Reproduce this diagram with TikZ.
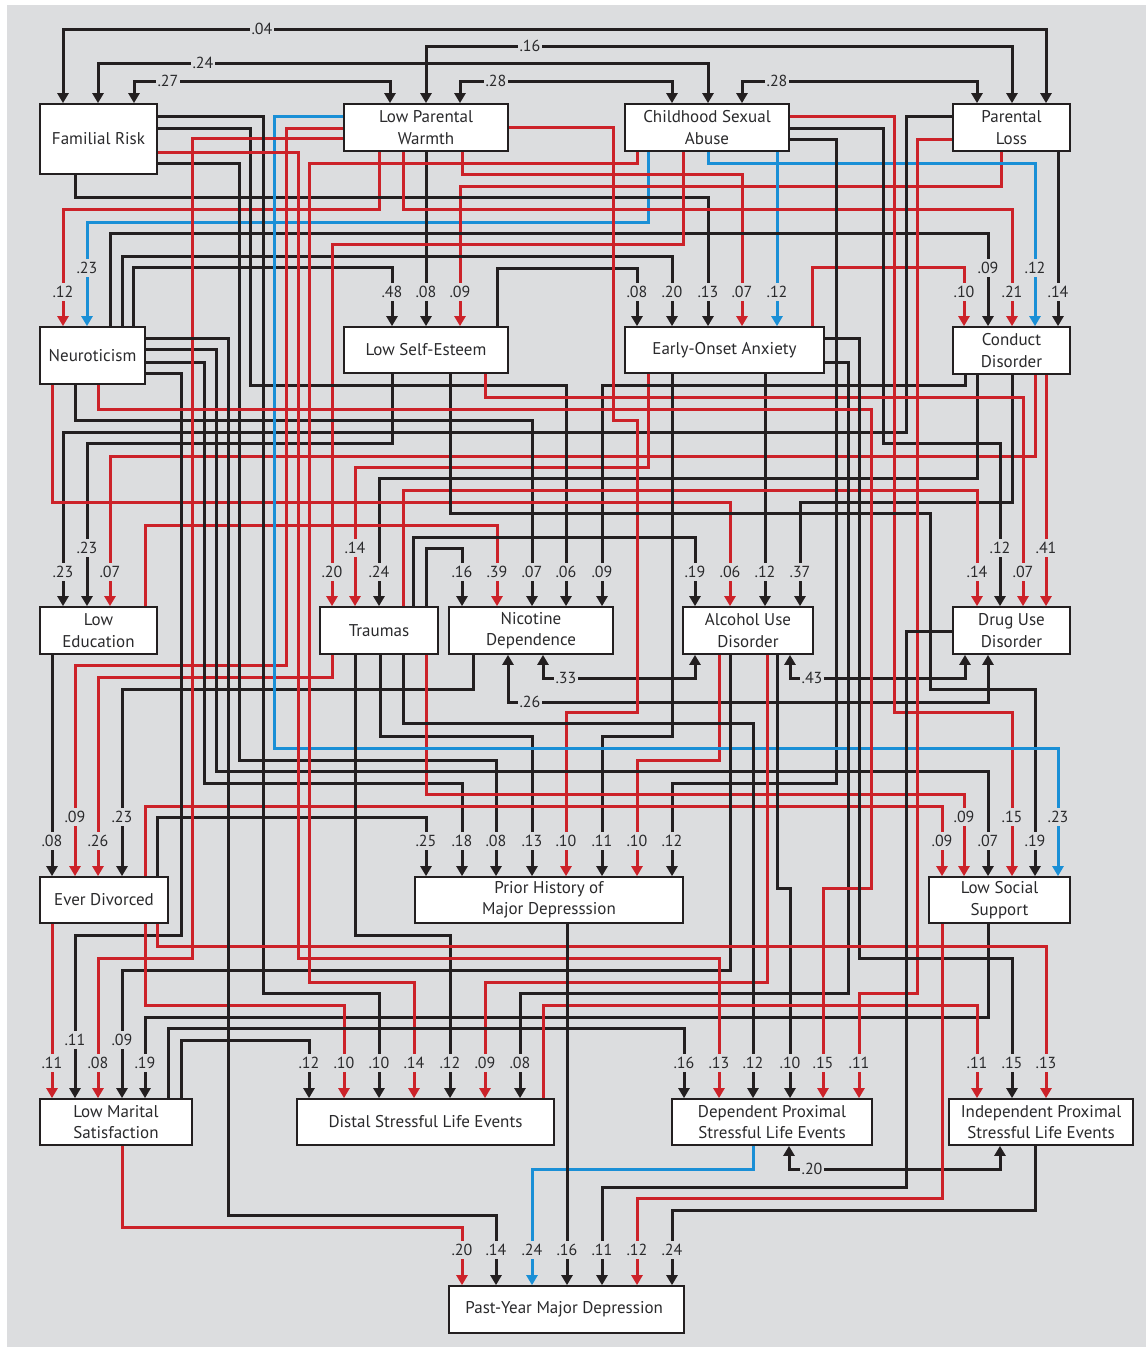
\documentclass[tikz,border=0pt]{standalone}
\usepackage{fontspec}
\setmainfont{PT Sans}
\usepackage{tikz}
\usetikzlibrary{arrows.meta}

\definecolor{bggray}{HTML}{DCDDDF}
\definecolor{pblack}{HTML}{231F20}
\definecolor{pred}{HTML}{CC2229}
\definecolor{pblue}{HTML}{1A8FD6}
\definecolor{txtgray}{HTML}{2A2A2C}

\begin{document}
\begin{tikzpicture}[x=1pt, y=-1pt,
  var/.style={draw=pblack, line width=1.7pt, fill=white, inner sep=0pt, align=center,
    text=txtgray, font=\fontsize{17}{21.5}\selectfont},
  coef/.style={fill=bggray, inner xsep=1.5pt, inner ysep=3.5pt, text=txtgray,
    font=\fontsize{16}{18}\selectfont},
  kline/.style={draw=pblack, line width=3pt, -{Triangle[length=10pt,width=11pt]}},
  rline/.style={draw=pred, line width=3pt, -{Triangle[length=10pt,width=11pt]}},
  bline/.style={draw=pblue, line width=3pt, -{Triangle[length=10pt,width=11pt]}},
  corr/.style={draw=pblack, line width=3pt,
    {Triangle[length=10pt,width=11pt]}-{Triangle[length=10pt,width=11pt]}}]

  \useasboundingbox (0,0) rectangle (1146,1347);
  \fill[white] (0,0) rectangle (1146,1347);
  \fill[bggray] (7,5) rectangle (1146,1347);

  % variables
  \foreach \nm/\xa/\ya/\xb/\yb/\lab in {
    famrisk/40/104/157/174/{Familial Risk},
    lowwarmth/344/104/508/151/{Low Parental\\Warmth},
    csa/625/104/789/151/{Childhood Sexual\\Abuse},
    parloss/953/104/1070/151/{Parental\\Loss},
    neurot/40/327/145/384/{Neuroticism},
    selfest/344/327/508/373/{Low Self-Esteem},
    anxiety/625/327/824/373/{Early-Onset Anxiety},
    conduct/953/327/1070/374/{Conduct\\Disorder},
    lowedu/40/607/157/654/{Low\\Education},
    traumas/320/607/438/654/{Traumas},
    nicotine/449/607/613/654/{Nicotine\\Dependence},
    alcohol/683/607/813/654/{Alcohol Use\\Disorder},
    druguse/953/607/1070/654/{Drug Use\\Disorder},
    divorced/40/877/168/923/{Ever Divorced},
    priormd/415/877/683/923/{Prior History of\\Major Depresssion},
    socsup/929/877/1070/923/{Low Social\\Support},
    marital/40/1099/192/1145/{Low Marital\\Satisfaction},
    distal/297/1099/554/1145/{Distal Stressful Life Events},
    depprox/672/1099/872/1145/{Dependent Proximal\\Stressful Life Events},
    indprox/949/1099/1133/1145/{Independent Proximal\\Stressful Life Events},
    pastmd/449/1286/684/1333/{Past-Year Major Depression}
  } {
    \node[var, minimum width={(\xb-\xa)*1pt}, minimum height={(\yb-\ya)*1pt}]
      (\nm) at ({(\xa+\xb)/2},{(\ya+\yb)/2}) {\lab};
  }

  % correlations among the childhood factors
  \draw[corr] (63,0 |- famrisk.north) -- (63,29) -- (262,29) node[coef] {.04} -- (1046,29) -- (1046,0 |- parloss.north);
  \draw[corr] (426,0 |- lowwarmth.north) -- (426,46) -- (530,46) node[coef] {.16} -- (1012,46) -- (1012,0 |- parloss.north);
  \draw[corr] (98,0 |- famrisk.north) -- (98,63) -- (203,63) node[coef] {.24} -- (708,63) -- (708,0 |- csa.north);
  \draw[corr] (134,0 |- famrisk.north) -- (134,81) -- (168,81) node[coef] {.27} -- (390,81) -- (390,0 |- lowwarmth.north);
  \draw[corr] (460,0 |- lowwarmth.north) -- (460,81) -- (496,81) node[coef] {.28} -- (672,81) -- (672,0 |- csa.north);
  \draw[corr] (742,0 |- csa.north) -- (742,81) -- (777,81) node[coef] {.28} -- (977,81) -- (977,0 |- parloss.north);

  % into Neuroticism
  \draw[rline] (379,0 |- lowwarmth.south) -- (379,209) -- (63,209) -- (63,292) node[coef] {.12} -- (63,0 |- neurot.north);
  \draw[bline] (648,0 |- csa.south) -- (648,222) -- (87,222) -- (87,268) node[coef] {.23} -- (87,0 |- neurot.north);

  % into Low Self-Esteem
  \draw[kline] (133,0 |- neurot.north) -- (133,267) -- (392,267) -- (392,292) node[coef] {.48} -- (392,0 |- selfest.north);
  \draw[kline] (426,0 |- lowwarmth.south) -- (426,292) node[coef] {.08} -- (426,0 |- selfest.north);
  \draw[rline] (1001,0 |- parloss.south) -- (1001,186) -- (460,186) -- (460,292) node[coef] {.09} -- (460,0 |- selfest.north);

  % into Early-Onset Anxiety
  \draw[kline] (497,0 |- selfest.north) -- (497,268) -- (637,268) -- (637,292) node[coef] {.08} -- (637,0 |- anxiety.north);
  \draw[kline] (122,0 |- neurot.north) -- (122,256) -- (672,256) -- (672,292) node[coef] {.20} -- (672,0 |- anxiety.north);
  \draw[kline] (75,0 |- famrisk.south) -- (75,197) -- (708,197) -- (708,292) node[coef] {.13} -- (708,0 |- anxiety.north);
  \draw[rline] (462,0 |- lowwarmth.south) -- (462,174) -- (742,174) -- (742,292) node[coef] {.07} -- (742,0 |- anxiety.north);
  \draw[bline] (777,0 |- csa.south) -- (777,292) node[coef] {.12} -- (777,0 |- anxiety.north);

  % into Conduct Disorder
  \draw[rline] (812,0 |- anxiety.north) -- (812,267) -- (964,267) -- (964,292) node[coef] {.10} -- (964,0 |- conduct.north);
  \draw[kline] (110,0 |- neurot.north) -- (110,233) -- (988,233) -- (988,268) node[coef] {.09} -- (988,0 |- conduct.north);
  \draw[rline] (403,0 |- lowwarmth.south) -- (403,209) -- (1012,209) -- (1012,292) node[coef] {.21} -- (1012,0 |- conduct.north);
  \draw[bline] (708,0 |- csa.south) -- (708,163) -- (1035,163) -- (1035,268) node[coef] {.12} -- (1035,0 |- conduct.north);
  \draw[kline] (1058,0 |- parloss.south) -- (1058,292) node[coef] {.14} -- (1058,0 |- conduct.north);

  % into Low Education
  \draw[kline] (parloss.west |- 0,116) -- (906,116) -- (906,432) -- (63,432) -- (63,572) node[coef] {.23} -- (63,0 |- lowedu.north);
  \draw[kline] (392,0 |- selfest.south) -- (392,443) -- (87,443) -- (87,548) node[coef] {.23} -- (87,0 |- lowedu.north);
  \draw[rline] (1035,0 |- conduct.south) -- (1035,456) -- (110,456) -- (110,572) node[coef] {.07} -- (110,0 |- lowedu.north);

  % into Traumas
  \draw[rline] (683,0 |- csa.south) -- (683,244) -- (332,244) -- (332,572) node[coef] {.20} -- (332,0 |- traumas.north);
  \draw[rline] (648,0 |- anxiety.south) -- (648,467) -- (355,467) -- (355,548) node[coef] {.14} -- (355,0 |- traumas.north);
  \draw[kline] (977,0 |- conduct.south) -- (977,478) -- (379,478) -- (379,572) node[coef] {.24} -- (379,0 |- traumas.north);

  % into Nicotine Dependence
  \draw[kline] (426,0 |- traumas.north) -- (426,548) -- (462,548) -- (462,572) node[coef] {.16} -- (462,0 |- nicotine.north);
  \draw[rline] (145,0 |- lowedu.north) -- (145,525) -- (497,525) -- (497,572) node[coef] {.39} -- (497,0 |- nicotine.north);
  \draw[kline] (75,0 |- neurot.south) -- (75,420) -- (532,420) -- (532,572) node[coef] {.07} -- (532,0 |- nicotine.north);
  \draw[kline] (famrisk.east |- 0,128) -- (250,128) -- (250,385) -- (566,385) -- (566,572) node[coef] {.06} -- (566,0 |- nicotine.north);
  \draw[kline] (965,0 |- conduct.south) -- (965,385) -- (602,385) -- (602,572) node[coef] {.09} -- (602,0 |- nicotine.north);

  % into Alcohol Use Disorder
  \draw[kline] (413,0 |- traumas.north) -- (413,537) -- (695,537) -- (695,572) node[coef] {.19} -- (695,0 |- alcohol.north);
  \draw[rline] (52,0 |- neurot.south) -- (52,502) -- (730,502) -- (730,572) node[coef] {.06} -- (730,0 |- alcohol.north);
  \draw[kline] (765,0 |- anxiety.south) -- (765,572) node[coef] {.12} -- (765,0 |- alcohol.north);
  \draw[kline] (1012,0 |- conduct.south) -- (1012,502) -- (800,502) -- (800,572) node[coef] {.37} -- (800,0 |- alcohol.north);

  % into Drug Use Disorder
  \draw[rline] (403,0 |- traumas.north) -- (403,490) -- (977,490) -- (977,572) node[coef] {.14} -- (977,0 |- druguse.north);
  \draw[kline] (csa.east |- 0,128) -- (883,128) -- (883,443) -- (1000,443) -- (1000,548) node[coef] {.12} -- (1000,0 |- druguse.north);
  \draw[rline] (485,0 |- selfest.south) -- (485,397) -- (1023,397) -- (1023,572) node[coef] {.07} -- (1023,0 |- druguse.north);
  \draw[rline] (1046,0 |- conduct.south) -- (1046,548) node[coef] {.41} -- (1046,0 |- druguse.north);

  % correlations among the substance disorders
  \draw[corr] (543,0 |- nicotine.south) -- (543,678) -- (566,678) node[coef] {.33} -- (695,678) -- (695,0 |- alcohol.south);
  \draw[corr] (508,0 |- nicotine.south) -- (508,702) -- (530,702) node[coef] {.26} -- (988,702) -- (988,0 |- druguse.south);
  \draw[corr] (790,0 |- alcohol.south) -- (790,678) -- (812,678) node[coef] {.43} -- (965,678) -- (965,0 |- druguse.south);

  % into Ever Divorced
  \draw[kline] (52,0 |- lowedu.south) -- (52,841) node[coef] {.08} -- (52,0 |- divorced.north);
  \draw[rline] (lowwarmth.west |- 0,128) -- (286,128) -- (286,665) -- (75,665) -- (75,817) node[coef] {.09} -- (75,0 |- divorced.north);
  \draw[rline] (332,0 |- traumas.south) -- (332,677) -- (98,677) -- (98,841) node[coef] {.26} -- (98,0 |- divorced.north);
  \draw[kline] (473,0 |- nicotine.south) -- (473,689) -- (122,689) -- (122,817) node[coef] {.23} -- (122,0 |- divorced.north);

  % into Prior History of Major Depression
  \draw[kline] (157,0 |- divorced.north) -- (157,817) -- (426,817) -- (426,841) node[coef] {.25} -- (426,0 |- priormd.north);
  \draw[kline] (neurot.east |- 0,362) -- (204,362) -- (204,783) -- (462,783) -- (462,841) node[coef] {.18} -- (462,0 |- priormd.north);
  \draw[kline] (famrisk.east |- 0,163) -- (239,163) -- (239,760) -- (496,760) -- (496,841) node[coef] {.08} -- (496,0 |- priormd.north);
  \draw[kline] (380,0 |- traumas.south) -- (380,736) -- (532,736) -- (532,841) node[coef] {.13} -- (532,0 |- priormd.north);
  \draw[rline] (lowwarmth.east |- 0,127) -- (613,127) -- (613,420) -- (637,420) -- (637,712) -- (566,712) -- (566,841) node[coef] {.10} -- (566,0 |- priormd.north);
  \draw[kline] (672,0 |- anxiety.south) -- (672,736) -- (602,736) -- (602,841) node[coef] {.11} -- (602,0 |- priormd.north);
  \draw[rline] (719,0 |- alcohol.south) -- (719,760) -- (637,760) -- (637,841) node[coef] {.10} -- (637,0 |- priormd.north);
  \draw[kline] (csa.east |- 0,139) -- (836,139) -- (836,783) -- (672,783) -- (672,841) node[coef] {.12} -- (672,0 |- priormd.north);

  % into Low Social Support
  \draw[rline] (145,0 |- divorced.north) -- (145,806) -- (942,806) -- (942,841) node[coef] {.09} -- (942,0 |- socsup.north);
  \draw[rline] (426,0 |- traumas.south) -- (426,794) -- (964,794) -- (964,817) node[coef] {.09} -- (964,0 |- socsup.north);
  \draw[kline] (neurot.east |- 0,349) -- (216,349) -- (216,771) -- (988,771) -- (988,841) node[coef] {.07} -- (988,0 |- socsup.north);
  \draw[rline] (csa.east |- 0,116) -- (894,116) -- (894,712) -- (1012,712) -- (1012,817) node[coef] {.15} -- (1012,0 |- socsup.north);
  \draw[kline] (450,0 |- selfest.south) -- (450,513) -- (930,513) -- (930,689) -- (1035,689) -- (1035,841) node[coef] {.19} -- (1035,0 |- socsup.north);
  \draw[bline] (lowwarmth.west |- 0,116) -- (274,116) -- (274,748) -- (1058,748) -- (1058,817) node[coef] {.23} -- (1058,0 |- socsup.north);

  % into Low Marital Satisfaction
  \draw[rline] (52,0 |- divorced.south) -- (52,1063) node[coef] {.11} -- (52,0 |- marital.north);
  \draw[kline] (neurot.east |- 0,373) -- (181,373) -- (181,935) -- (75,935) -- (75,1040) node[coef] {.11} -- (75,0 |- marital.north);
  \draw[rline] (lowwarmth.west |- 0,138) -- (192,138) -- (192,958) -- (98,958) -- (98,1063) node[coef] {.08} -- (98,0 |- marital.north);
  \draw[kline] (730,0 |- alcohol.south) -- (730,970) -- (122,970) -- (122,1040) node[coef] {.09} -- (122,0 |- marital.north);
  \draw[kline] (988,0 |- socsup.south) -- (988,1017) -- (145,1017) -- (145,1063) node[coef] {.19} -- (145,0 |- marital.north);

  % into Distal Stressful Life Events
  \draw[kline] (181,0 |- marital.north) -- (181,1040) -- (309,1040) -- (309,1063) node[coef] {.12} -- (309,0 |- distal.north);
  \draw[rline] (145,0 |- divorced.south) -- (145,1005) -- (344,1005) -- (344,1063) node[coef] {.10} -- (344,0 |- distal.north);
  \draw[kline] (famrisk.east |- 0,116) -- (263,116) -- (263,993) -- (379,993) -- (379,1063) node[coef] {.10} -- (379,0 |- distal.north);
  \draw[rline] (637,0 |- csa.south) -- (637,163) -- (309,163) -- (309,982) -- (414,982) -- (414,1063) node[coef] {.14} -- (414,0 |- distal.north);
  \draw[kline] (355,0 |- traumas.south) -- (355,935) -- (450,935) -- (450,1063) node[coef] {.12} -- (450,0 |- distal.north);
  \draw[rline] (767,0 |- alcohol.south) -- (767,982) -- (485,982) -- (485,1063) node[coef] {.09} -- (485,0 |- distal.north);
  \draw[kline] (anxiety.east |- 0,362) -- (848,362) -- (848,993) -- (520,993) -- (520,1063) node[coef] {.08} -- (520,0 |- distal.north);

  % into Dependent Proximal Stressful Life Events
  \draw[kline] (168,0 |- marital.north) -- (168,1028) -- (684,1028) -- (684,1063) node[coef] {.16} -- (684,0 |- depprox.north);
  \draw[rline] (famrisk.east |- 0,152) -- (298,152) -- (298,958) -- (719,958) -- (719,1063) node[coef] {.13} -- (719,0 |- depprox.north);
  \draw[kline] (403,0 |- traumas.south) -- (403,723) -- (753,723) -- (753,1063) node[coef] {.12} -- (753,0 |- depprox.north);
  \draw[kline] (777,0 |- alcohol.south) -- (777,888) -- (790,888) -- (790,1063) node[coef] {.10} -- (790,0 |- depprox.north);
  \draw[rline] (98,0 |- neurot.south) -- (98,409) -- (871,409) -- (871,888) -- (823,888) -- (823,1063) node[coef] {.15} -- (823,0 |- depprox.north);
  \draw[rline] (parloss.west |- 0,139) -- (917,139) -- (917,993) -- (859,993) -- (859,1063) node[coef] {.11} -- (859,0 |- depprox.north);

  % into Independent Proximal Stressful Life Events
  \draw[rline] (543,0 |- distal.north) -- (543,1005) -- (977,1005) -- (977,1063) node[coef] {.11} -- (977,0 |- indprox.north);
  \draw[kline] (anxiety.east |- 0,338) -- (859,338) -- (859,958) -- (1012,958) -- (1012,1063) node[coef] {.15} -- (1012,0 |- indprox.north);
  \draw[rline] (157,0 |- divorced.south) -- (157,946) -- (1046,946) -- (1046,1063) node[coef] {.13} -- (1046,0 |- indprox.north);

  \draw[corr] (789,0 |- depprox.south) -- (789,1169) -- (812,1169) node[coef] {.20} -- (1000,1169) -- (1000,0 |- indprox.south);

  % into Past-Year Major Depression
  \draw[rline] (122,0 |- marital.south) -- (122,1227) -- (462,1227) -- (462,1250) node[coef] {.20} -- (462,0 |- pastmd.north);
  \draw[kline] (neurot.east |- 0,338) -- (228,338) -- (228,1215) -- (496,1215) -- (496,1250) node[coef] {.14} -- (496,0 |- pastmd.north);
  \draw[bline] (753,0 |- depprox.south) -- (753,1169) -- (532,1169) -- (532,1250) node[coef] {.24} -- (532,0 |- pastmd.north);
  \draw[kline] (567,0 |- priormd.south) -- (567,1250) node[coef] {.16} -- (567,0 |- pastmd.north);
  \draw[kline] (druguse.west |- 0,631) -- (906,631) -- (906,1187) -- (602,1187) -- (602,1250) node[coef] {.11} -- (602,0 |- pastmd.north);
  \draw[rline] (942,0 |- socsup.south) -- (942,1198) -- (637,1198) -- (637,1250) node[coef] {.12} -- (637,0 |- pastmd.north);
  \draw[kline] (1035,0 |- indprox.south) -- (1035,1210) -- (672,1210) -- (672,1250) node[coef] {.24} -- (672,0 |- pastmd.north);
\end{tikzpicture}
\end{document}
